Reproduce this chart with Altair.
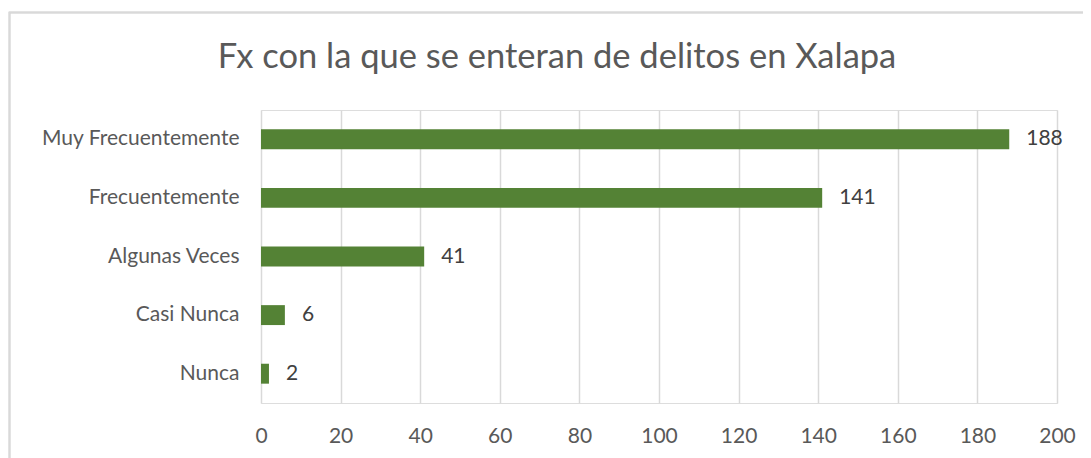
import altair as alt
import pandas as pd

categories = ["Muy Frecuentemente", "Frecuentemente", "Algunas Veces", "Casi Nunca", "Nunca"]
values = [188, 141, 41, 6, 2]
x_ticks = [0, 20, 40, 60, 80, 100, 120, 140, 160, 180, 200]
title_text = ["Fx con la que se enteran de delitos en Xalapa"]

df = pd.DataFrame({"cat": categories, "val": values})
FONT = "Lato"

base = alt.Chart(df)

y_enc = alt.Y("cat:N", sort=categories, title=None,
              scale=alt.Scale(paddingInner=0.66, paddingOuter=0.33),
              axis=alt.Axis(labelFontSize=21, labelColor="#595959", labelFont=FONT,
                            labelPadding=22, labelLimit=400, ticks=False, domain=False,
                            grid=False))
x_enc = alt.X("val:Q", title=None,
              scale=alt.Scale(domain=[0, 200], nice=False),
              axis=alt.Axis(values=x_ticks, labelFontSize=21, labelColor="#595959",
                            labelFont=FONT, labelPadding=22, labelFlush=False,
                            ticks=False, domain=False,
                            grid=True, gridColor="#d9d9d9", gridWidth=1.5))

bars = base.mark_bar(color="#548235").encode(x=x_enc, y=y_enc)
labels = base.mark_text(align="left", baseline="middle", dx=17, fontSize=21,
                        font=FONT, color="#404040").encode(
    x="val:Q", y=alt.Y("cat:N", sort=categories), text="val:Q")

frame = base.mark_rect(fill=None, stroke="#d9d9d9", strokeWidth=1.5, clip=False).encode(
    x=alt.value(-251.5), y=alt.value(-97.5), x2=alt.value(850), y2=alt.value(380))

title = alt.Chart(pd.DataFrame({"t": title_text})).mark_text(
    align="center", baseline="alphabetic", fontSize=34.5, font=FONT, color="#595959"
).encode(text="t:N", x=alt.value(296), y=alt.value(-42))

chart = alt.layer(frame, bars, labels, title).properties(
    width=796, height=293,
    autosize=alt.AutoSizeParams(type="none"),
    padding={"left": 253, "top": 102, "right": 26, "bottom": 60},
).configure_view(stroke=None).configure(background="white")

chart.save("out.html", embed_options={"renderer": "svg", "actions": False})
